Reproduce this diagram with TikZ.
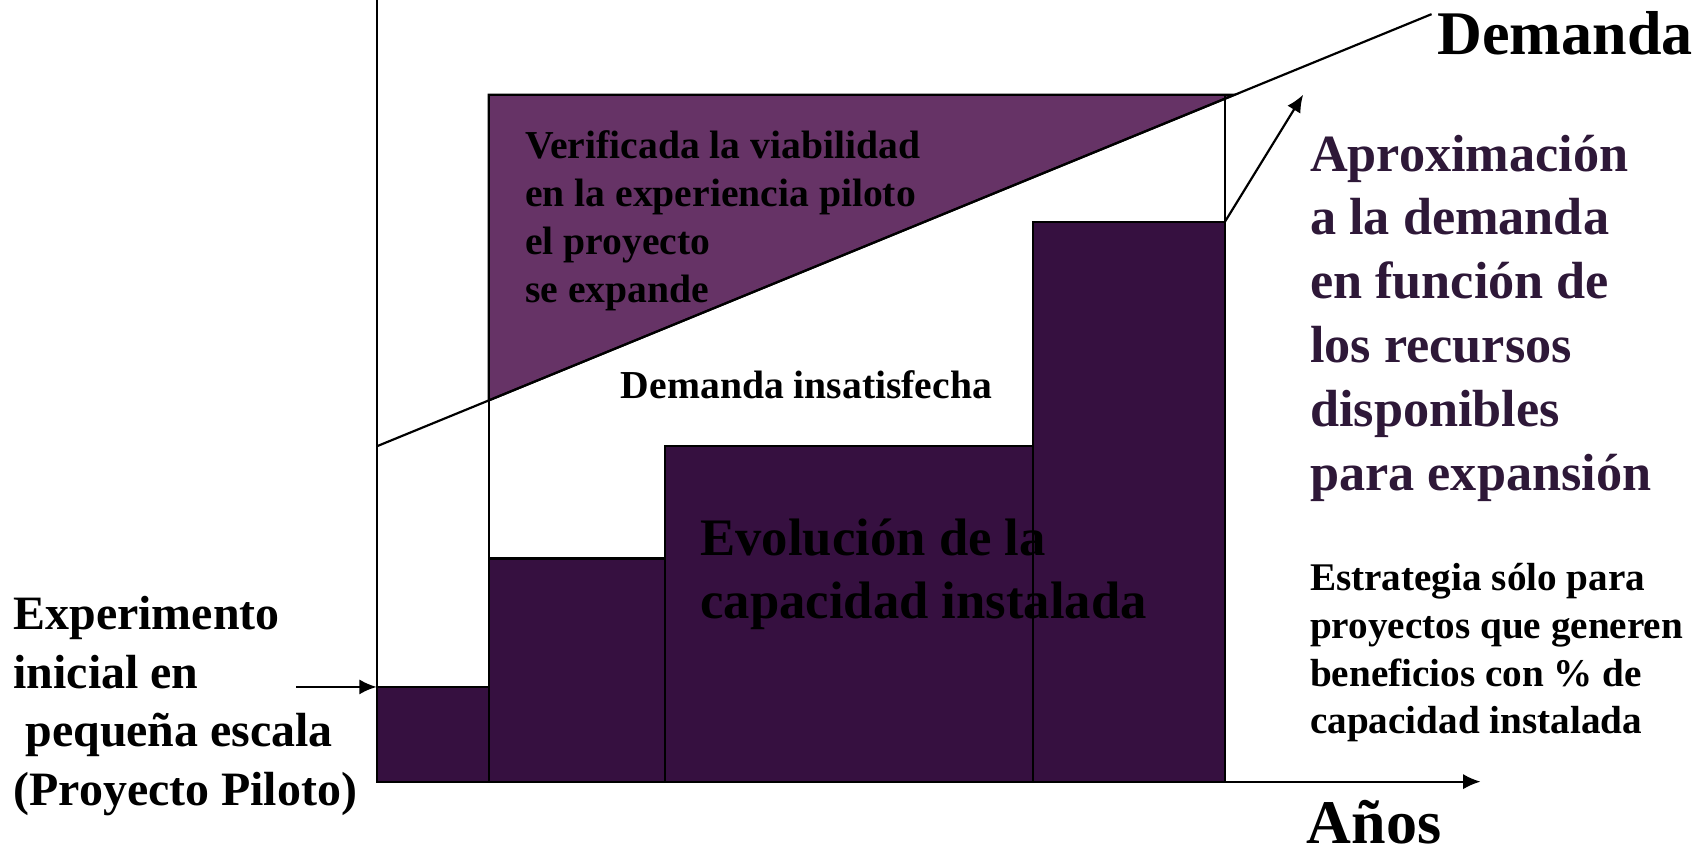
\documentclass[tikz,border=0pt]{standalone}
\usepackage{fontspec}
\setmainfont{Liberation Serif}
\usetikzlibrary{arrows.meta}
\definecolor{bardark}{RGB}{54,16,64}
\definecolor{trifill}{RGB}{102,51,102}
\definecolor{textviolet}{RGB}{46,24,56}

\tikzset{
  capbar/.style={fill=bardark,draw=black,line width=1pt},
  lbl/.style={inner sep=0pt,align=left,font=\bfseries},
  pointer/.style={-{Latex[length=8pt,width=7pt]},line width=1pt},
}

\begin{document}
\begin{tikzpicture}[x=0.5pt,y=-0.5pt]
    \useasboundingbox (0,0) rectangle (1568,780);
    % unmet demand above the pilot
    \draw[fill=trifill,line width=1pt] (449,87) -- (1134,87) -- (449,367.8) -- cycle;
    \draw[line width=0.8pt] (449,367.8) -- (449,513);
    \draw[line width=0.8pt] (1125,87) -- (1125,204);
    % installed capacity steps
    \draw[capbar] (346,631) rectangle (449,718);
    \draw[capbar] (449,513) rectangle (611,718);
    \draw[capbar] (611,410) rectangle (949,718);
    \draw[capbar] (949,204) rectangle (1125,718);
    % axes and demand line
    \coordinate (orig) at (346,718);
    \draw[line width=1pt] (orig) -- (346,0);
    \draw[pointer] (orig) -- (1360,718);
    \draw[line width=1pt] (346,410) -- (1315,13);
    \coordinate (stepTop) at (1125,204);
    \coordinate (approxTip) at (1197,87);
    \draw[pointer] (stepTop) -- (approxTip);
    \coordinate (pilotTail) at (272,631);
    \coordinate (pilotTop) at (346,631);
    \draw[pointer] (pilotTail) -- (pilotTop);
    % labels
    \node[lbl,anchor=base west,font=\bfseries\fontsize{28.5}{34}\selectfont] (demanda) at (1320,50) {Demanda};
    \node[lbl,anchor=base west,font=\bfseries\fontsize{28.5}{34}\selectfont] (anos) at (1200,775) {Años};
    \node[lbl,anchor=north west,text=textviolet,font=\bfseries\fontsize{24}{29.3}\selectfont] (aprox) at (1203,123.4)
        {Aproximación\\a la demanda\\en función de\\los recursos\\disponibles\\para expansión};
    \node[lbl,anchor=north west,font=\bfseries\fontsize{18}{22}\selectfont] (estrategia) at (1203,516.8)
        {Estrategia sólo para\\proyectos que generen\\beneficios con \% de\\capacidad instalada};
    \node[lbl,anchor=north west,font=\bfseries\fontsize{18.2}{22}\selectfont] (verificada) at (482,119.8)
        {Verificada la viabilidad\\en la experiencia piloto\\el proyecto\\se expande};
    \node[lbl,anchor=base west,font=\bfseries\fontsize{18.2}{22}\selectfont] (insat) at (570,366) {Demanda insatisfecha};
    \node[lbl,anchor=north west,font=\bfseries\fontsize{24.2}{29}\selectfont] (evol) at (643,476.4)
        {Evolución de la\\capacidad instalada};
    \node[lbl,anchor=north west,font=\bfseries\fontsize{22}{27}\selectfont] (piloto) at (12,547.2)
        {Experimento\\inicial en\\\ pequeña escala\\(Proyecto Piloto)};
\end{tikzpicture}
\end{document}
